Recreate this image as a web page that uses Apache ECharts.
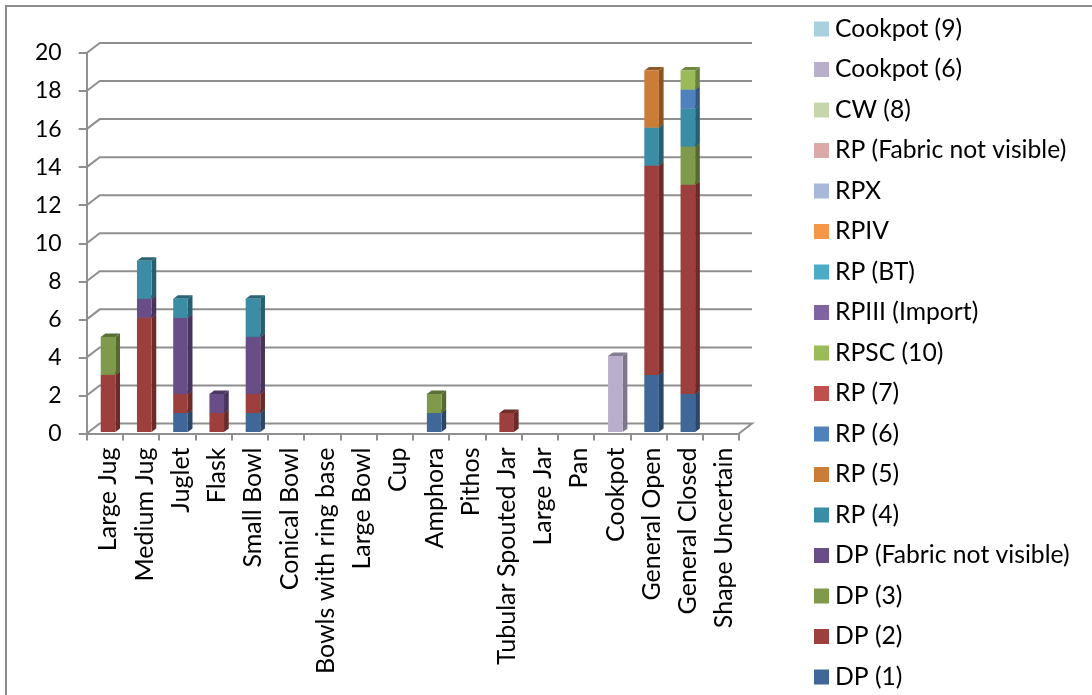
<!DOCTYPE html>
<html>
<head>
<meta charset="utf-8">
<style>html,body{margin:0;padding:0;background:#fff;overflow:hidden}#c{width:1092px;height:695px}</style>
<script src="https://cdn.jsdelivr.net/npm/echarts@6/dist/echarts.min.js"></script>
</head>
<body>
<div id="c"></div>
<script>
const categories = ["Large Jug","Medium Jug","Juglet","Flask","Small Bowl","Conical Bowl","Bowls with ring base","Large Bowl","Cup","Amphora","Pithos","Tubular Spouted Jar","Large Jar","Pan","Cookpot","General Open","General Closed","Shape Uncertain"];
const yTicks = [0,2,4,6,8,10,12,14,16,18,20];
const dp1      = [0,0,1,0,1,0,0,0,0,1,0,0,0,0,0,3,2,0];
const dp2      = [3,6,1,1,1,0,0,0,0,0,0,1,0,0,0,11,11,0];
const dp3      = [2,0,0,0,0,0,0,0,0,1,0,0,0,0,0,0,2,0];
const dpFnv    = [0,1,4,1,3,0,0,0,0,0,0,0,0,0,0,0,0,0];
const rp4      = [0,2,1,0,2,0,0,0,0,0,0,0,0,0,0,2,2,0];
const rp5      = [0,0,0,0,0,0,0,0,0,0,0,0,0,0,0,3,0,0];
const rp6      = [0,0,0,0,0,0,0,0,0,0,0,0,0,0,0,0,1,0];
const rp7      = [0,0,0,0,0,0,0,0,0,0,0,0,0,0,0,0,0,0];
const rpsc10   = [0,0,0,0,0,0,0,0,0,0,0,0,0,0,0,0,1,0];
const rp3imp   = [0,0,0,0,0,0,0,0,0,0,0,0,0,0,0,0,0,0];
const rpBT     = [0,0,0,0,0,0,0,0,0,0,0,0,0,0,0,0,0,0];
const rp4roman = [0,0,0,0,0,0,0,0,0,0,0,0,0,0,0,0,0,0];
const rpx      = [0,0,0,0,0,0,0,0,0,0,0,0,0,0,0,0,0,0];
const rpFnv    = [0,0,0,0,0,0,0,0,0,0,0,0,0,0,0,0,0,0];
const cw8      = [0,0,0,0,0,0,0,0,0,0,0,0,0,0,0,0,0,0];
const cookpot6 = [0,0,0,0,0,0,0,0,0,0,0,0,0,0,4,0,0,0];
const cookpot9 = [0,0,0,0,0,0,0,0,0,0,0,0,0,0,0,0,0,0];

const seriesDefs = [
  ["DP (1)", dp1, "#3F6797"],
  ["DP (2)", dp2, "#9C3F3D"],
  ["DP (3)", dp3, "#7F9A4A"],
  ["DP (Fabric not visible)", dpFnv, "#694D86"],
  ["RP (4)", rp4, "#3B8CA5"],
  ["RP (5)", rp5, "#CB7C36"],
  ["RP (6)", rp6, "#4F81BD"],
  ["RP (7)", rp7, "#C0504D"],
  ["RPSC (10)", rpsc10, "#9BBB59"],
  ["RPIII (Import)", rp3imp, "#8064A2"],
  ["RP (BT)", rpBT, "#4BACC6"],
  ["RPIV", rp4roman, "#F79646"],
  ["RPX", rpx, "#A8B8D7"],
  ["RP (Fabric not visible)", rpFnv, "#DBA9A8"],
  ["CW (8)", cw8, "#C6D6AC"],
  ["Cookpot (6)", cookpot6, "#B9AECB"],
  ["Cookpot (9)", cookpot9, "#A7D1DF"]
];

const WALL_DX = 13, WALL_DY = -10;
const BAR_W = 14.6, BAR_SHIFT_X = 3.2, BAR_SHIFT_Y = -1.5, DEPTH_X = 4.7, DEPTH_Y = -3.5;
const LINE = "#8F8F8F";

function darken(hex, f) {
  const n = parseInt(hex.slice(1), 16);
  const c = s => Math.round(((n >> s) & 255) * f);
  return "rgb(" + c(16) + "," + c(8) + "," + c(0) + ")";
}

const running = categories.map(() => 0);
const barSeries = seriesDefs.map(([name, values, color]) => {
  const data = [];
  values.forEach((v, i) => {
    if (v > 0) { data.push([i, running[i], running[i] + v]); running[i] += v; }
  });
  return {
    name, type: "custom", coordinateSystem: "cartesian2d", silent: true, z: 5,
    itemStyle: { color },
    encode: { x: 0, y: [1, 2] },
    data,
    renderItem(params, api) {
      const a = api.coord([api.value(0), api.value(1)]);
      const b = api.coord([api.value(0), api.value(2)]);
      const xl = a[0] - BAR_W / 2 + BAR_SHIFT_X, xr = xl + BAR_W;
      const y0 = a[1] + BAR_SHIFT_Y, y1 = b[1] + BAR_SHIFT_Y;
      return { type: "group", children: [
        { type: "polygon", shape: { points: [[xr, y0], [xr + DEPTH_X, y0 + DEPTH_Y], [xr + DEPTH_X, y1 + DEPTH_Y], [xr, y1]] }, style: { fill: darken(color, 0.68) } },
        { type: "polygon", shape: { points: [[xl, y1], [xr, y1], [xr + DEPTH_X, y1 + DEPTH_Y], [xl + DEPTH_X, y1 + DEPTH_Y]] }, style: { fill: darken(color, 0.72) } },
        { type: "rect", shape: { x: xl, y: y1, width: BAR_W, height: y0 - y1 }, style: { fill: color } }
      ]};
    }
  };
});

const wallSeries = {
  name: "wall", type: "custom", coordinateSystem: "cartesian2d", silent: true, z: 1,
  encode: { y: 1 },
  data: yTicks.map(t => [0, t]),
  renderItem(params, api) {
    const cs = params.coordSys;
    const y = api.coord([0, api.value(1)])[1];
    const x0 = cs.x, x1 = cs.x + cs.width;
    const pts = [[x0, y], [x0 + WALL_DX, y + WALL_DY], [x1 + WALL_DX, y + WALL_DY]];
    if (api.value(1) === 0) pts.push([x1, y]);
    return { type: "polyline", shape: { points: pts }, style: { stroke: LINE, lineWidth: 2, fill: null } };
  }
};

const chart = echarts.init(document.getElementById("c"), null, { renderer: "canvas" });
chart.setOption({
  animation: false,
  backgroundColor: "#fff",
  graphic: [{ type: "rect", shape: { x: 6, y: 6, width: 1092, height: 700 }, style: { fill: "none", stroke: "#8C8C8C", lineWidth: 2 }, silent: true }],
  grid: { left: 86.7, top: 53, width: 652.3, height: 380.5 },
  xAxis: {
    type: "category", data: categories, boundaryGap: true,
    axisLine: { lineStyle: { color: LINE, width: 2 } },
    axisTick: { show: true, length: 7, lineStyle: { color: LINE, width: 2 } },
    axisLabel: { interval: 0, rotate: 90, margin: 14, color: "#000", fontFamily: "Lato", fontSize: 25, hideOverlap: false, verticalAlign: "top", lineHeight: 7 }
  },
  yAxis: {
    type: "value", min: 0, max: 20, interval: 2,
    axisLine: { show: true, lineStyle: { color: LINE, width: 2 } },
    axisTick: { show: true, length: 8, lineStyle: { color: LINE, width: 2 } },
    axisLabel: { margin: 25, color: "#000", fontFamily: "Lato", fontSize: 23 },
    splitLine: { show: false }
  },
  legend: {
    orient: "vertical", left: 814, top: 16.5, padding: 0,
    itemWidth: 15, itemHeight: 15, itemGap: 15.5, icon: "rect",
    selectedMode: false,
    data: seriesDefs.map(s => s[0]).reverse(),
    textStyle: { color: "#000", fontFamily: "Lato", fontSize: 24.7, padding: [0,0,0,1] }
  },
  series: [wallSeries].concat(barSeries)
});
</script>
</body>
</html>
